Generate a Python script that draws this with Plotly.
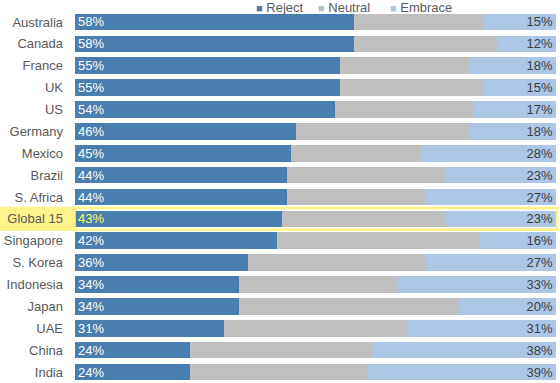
import plotly.graph_objects as go

countries = ["Australia", "Canada", "France", "UK", "US", "Germany", "Mexico", "Brazil",
             "S. Africa", "Global 15", "Singapore", "S. Korea", "Indonesia", "Japan",
             "UAE", "China", "India"]
reject = [58, 58, 55, 55, 54, 46, 45, 44, 44, 43, 42, 36, 34, 34, 31, 24, 24]
neutral = [27, 30, 27, 30, 29, 36, 27, 33, 29, 34, 42, 37, 33, 46, 38, 38, 37]
embrace = [15, 12, 18, 15, 17, 18, 28, 23, 27, 23, 16, 27, 33, 20, 31, 38, 39]
series_names = ["Reject", "Neutral", "Embrace"]

highlight = "Global 15"
FONT = "Liberation Sans, Arial, sans-serif"

c_rej = "#4A7EB0"
c_neu = "#BFBFBF"
c_emb = "#ADC6E6"
colors = [c_rej, c_neu, c_emb]

rej_txt_col = ["#FFFF66" if c == highlight else "white" for c in countries]
emb_txt_col = ["#3F3F20" if c == highlight else "#404040" for c in countries]

fig = go.Figure()
fig.add_trace(go.Bar(
    y=countries, x=reject, name="Reject", orientation="h",
    marker=dict(color=c_rej, line=dict(width=0)),
    text=[f"{v}%" for v in reject], textposition="inside", insidetextanchor="start",
    textfont=dict(color=rej_txt_col, size=13, family=FONT),
    constraintext="none", textangle=0,
))
fig.add_trace(go.Bar(
    y=countries, x=neutral, name="Neutral", orientation="h",
    marker=dict(color=c_neu, line=dict(width=0)),
    textposition="none",
))
fig.add_trace(go.Bar(
    y=countries, x=embrace, name="Embrace", orientation="h",
    marker=dict(color=c_emb, line=dict(width=0)),
    text=[f"{v}%" for v in embrace], textposition="inside", insidetextanchor="end",
    textfont=dict(color=emb_txt_col, size=13, family=FONT),
    constraintext="none", textangle=0,
))

idx = countries.index(highlight)
# label-area fill
fig.add_shape(type="rect", xref="paper", yref="y", x0=-75/481, x1=0,
              y0=idx - 0.55, y1=idx + 0.55, fillcolor="#FFF38C",
              line=dict(width=0), layer="below")
# outline around the row
fig.add_shape(type="rect", xref="paper", yref="y", x0=-0.001, x1=1 + 1/481,
              y0=idx - 0.5, y1=idx + 0.5, fillcolor="rgba(0,0,0,0)",
              line=dict(color="#FFF385", width=2.5), layer="above")

# legend drawn as text annotations (small square markers close to labels)
legend_px = [254, 316, 388]
for name, col, px in zip(series_names, colors, legend_px):
    fig.add_annotation(
        xref="paper", yref="paper", x=(px - 75) / 481, y=1 + (11 - 7) / 372,
        xanchor="left", yanchor="middle", showarrow=False,
        text=f"<span style='font-size:11px;color:{col}'>■</span> {name}",
        font=dict(size=13, color="#595959", family=FONT),
    )

fig.update_layout(
    width=560, height=383,
    barmode="stack", bargap=0.24,
    margin=dict(l=75, r=4, t=11, b=0, autoexpand=False),
    paper_bgcolor="white", plot_bgcolor="white",
    font=dict(family=FONT, size=13, color="#595959"),
    showlegend=False,
)
fig.update_xaxes(range=[0, 100], visible=False, fixedrange=True)
fig.update_yaxes(autorange="reversed", showgrid=False, ticks="", ticklabelstandoff=11,
                 tickfont=dict(size=13, color="#595959"), showline=False,
                 zeroline=False, automargin=False, fixedrange=True)

fig.write_html("out.html", config={"displayModeBar": False},
               post_script="document.body.style.margin='0';")
